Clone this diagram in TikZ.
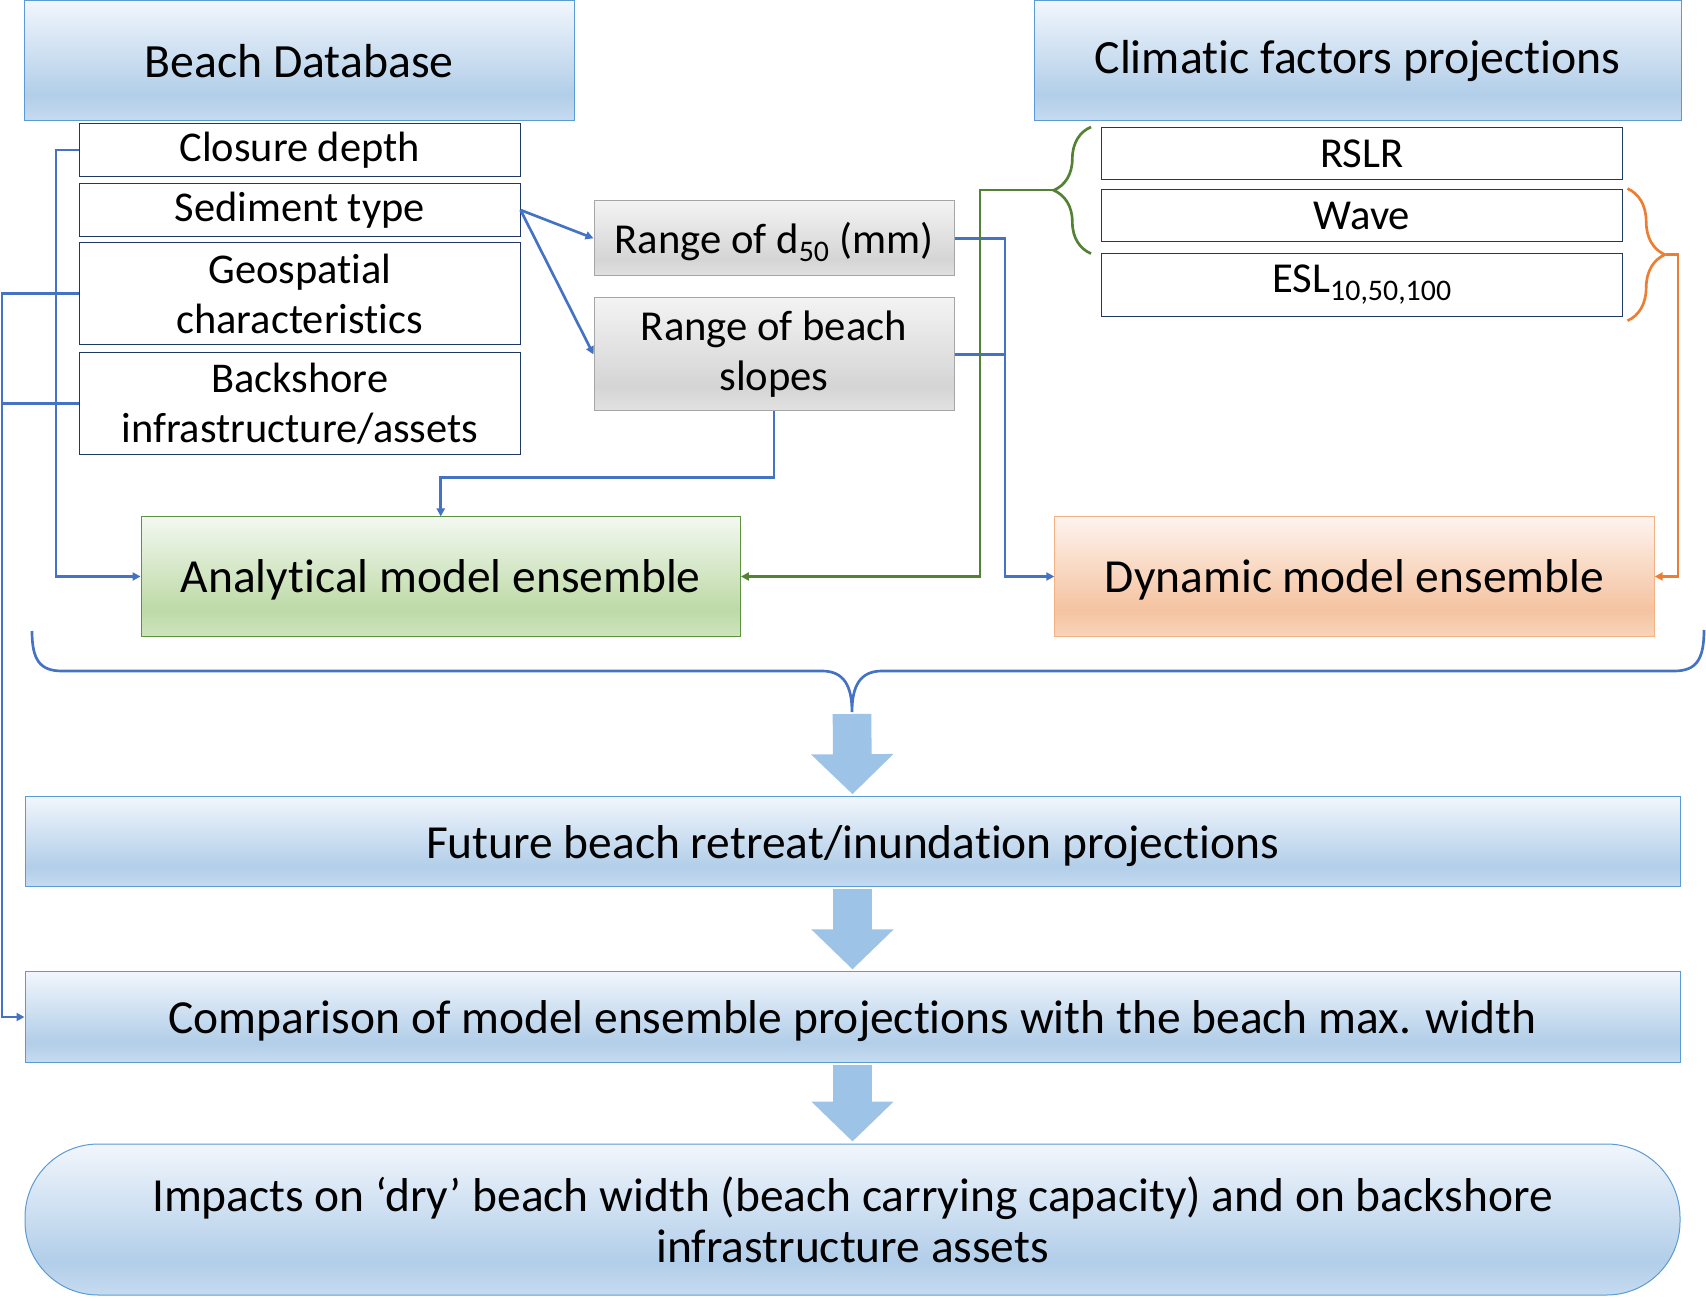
\documentclass[tikz,border=0pt]{standalone}
\usepackage{fontspec}
\setmainfont{Carlito}[Ligatures={TeX,NoCommon}]
\usetikzlibrary{arrows.meta,decorations.pathreplacing}

\definecolor{hdrT}{HTML}{F1F6FC}
\definecolor{hdrD}{HTML}{B2CEE9}
\definecolor{hdrB}{HTML}{C6DBF0}
\definecolor{hdrLine}{HTML}{5B9BD5}
\definecolor{gryT}{HTML}{F3F3F3}
\definecolor{gryD}{HTML}{D5D5D5}
\definecolor{gryB}{HTML}{E1E1E1}
\definecolor{gryLine}{HTML}{A6A6A6}
\definecolor{grnT}{HTML}{F3F8F0}
\definecolor{grnD}{HTML}{BDDAA7}
\definecolor{grnB}{HTML}{CDE4BD}
\definecolor{grnLine}{HTML}{5E9140}
\definecolor{orgT}{HTML}{FDF3EE}
\definecolor{orgD}{HTML}{F5C3A0}
\definecolor{orgB}{HTML}{F8D4BA}
\definecolor{orgLine}{HTML}{F4B183}
\definecolor{boxLine}{HTML}{1F3864}
\definecolor{blueLine}{HTML}{4472C4}
\definecolor{greenLine}{HTML}{548235}
\definecolor{orangeLine}{HTML}{ED7D31}
\definecolor{arrowFill}{HTML}{9DC3E6}

\pgfdeclareverticalshading{hdrshade}{100bp}{color(0bp)=(hdrB); color(25bp)=(hdrB); color(36bp)=(hdrD); color(75bp)=(hdrT); color(100bp)=(hdrT)}
\pgfdeclareverticalshading{gryshade}{100bp}{color(0bp)=(gryB); color(25bp)=(gryB); color(36bp)=(gryD); color(75bp)=(gryT); color(100bp)=(gryT)}
\pgfdeclareverticalshading{grnshade}{100bp}{color(0bp)=(grnB); color(25bp)=(grnB); color(36bp)=(grnD); color(75bp)=(grnT); color(100bp)=(grnT)}
\pgfdeclareverticalshading{orgshade}{100bp}{color(0bp)=(orgB); color(25bp)=(orgB); color(36bp)=(orgD); color(75bp)=(orgT); color(100bp)=(orgT)}

\tikzset{every picture/.style={line width=0.75pt},
  hdrbox/.style={draw=hdrLine, shade, shading=hdrshade, align=center, inner sep=0pt},
  itembox/.style={draw=boxLine, fill=white, align=center, inner sep=0pt, minimum width=330.4pt, font=\fontsize{31.8}{37.5}\selectfont},
  rangebox/.style={draw=gryLine, shade, shading=gryshade, align=center, inner sep=0pt, minimum width=270pt, font=\fontsize{32}{37.5}\selectfont},
  climbox/.style={draw=boxLine, fill=white, align=center, inner sep=0pt, minimum width=391.2pt, font=\fontsize{32}{37.5}\selectfont},
  modelbox/.style={align=center, inner sep=0pt, text depth=0pt, minimum width=449.5pt, minimum height=89.25pt, font=\fontsize{35.6}{42}\selectfont},
  bline/.style={draw=blueLine, line width=2pt},
  barrow/.style={bline, -{Triangle[length=6pt,width=6pt]}},
  garrow/.style={draw=greenLine, line width=2pt, -{Triangle[length=6pt,width=6pt]}},
  oarrow/.style={draw=orangeLine, line width=2pt, -{Triangle[length=6pt,width=6pt]}},
  smallbrace/.style={decorate, decoration={brace, amplitude=28pt}, line width=2pt},
  bigarrow/.style={draw=arrowFill, line width=29pt, -{Triangle[length=30pt,width=60pt]}, shorten <=1.5pt, shorten >=1.5pt}
}

\begin{document}
\begin{tikzpicture}[x=0.75pt,y=0.75pt,yscale=-1,xscale=1]
\path[use as bounding box] (0,0) rectangle (1706,1301);

%Shape: Rectangle [headers]
\node[hdrbox, minimum width=412.5pt, minimum height=90pt, font=\fontsize{35.8}{42}\selectfont] (bdb) at (299,61) {Beach Database};
\node[hdrbox, minimum width=485.25pt, minimum height=90pt, font=\fontsize{35.8}{42}\selectfont] (cfp) at (1357.5,61) {Climatic factors projections};

%Shape: Rectangle [beach database items]
\node[itembox, minimum height=39.5pt] (cd) at (299.75,150) {Closure depth};
\node[itembox, minimum height=39.5pt] (sed) at (299.75,210) {Sediment type};
\node[itembox, minimum height=76.2pt] (geo) at (299.75,293.5) {Geospatial\\characteristics};
\node[itembox, minimum height=76.5pt] (bs) at (299.75,403.3) {Backshore\\infrastructure/assets};

%Shape: Rectangle [ranges]
\node[rangebox, minimum height=56.5pt, text depth=0pt] (d50) at (774,238.3) {Range of d\textsubscript{50} (mm)};
\node[rangebox, minimum height=84.75pt] (slopes) at (774,354.5) {Range of beach\\slopes};

%Shape: Rectangle [climatic items]
\node[climbox, minimum height=39pt] (rslr) at (1362,154) {RSLR};
\node[climbox, minimum height=39pt] (wave) at (1362,216) {Wave};
\node[climbox, minimum height=47.1pt] (esl) at (1362,285) {ESL\textsubscript{10,50,100}};

%Shape: Rectangle [models]
\node[modelbox, draw=grnLine, shade, shading=grnshade] (ana) at (440.75,576.5) {Analytical model ensemble};
\node[modelbox, draw=orgLine, shade, shading=orgshade] (dyn) at (1354.5,576.5) {Dynamic model ensemble};

%Shape: Rectangle [results]
\node[hdrbox, text depth=0pt, minimum width=1241.25pt, minimum height=67.5pt, font=\fontsize{35.6}{42}\selectfont] (fut) at (852.5,841.7) {Future beach retreat/inundation projections};
\node[hdrbox, text depth=0pt, minimum width=1241.25pt, minimum height=67.7pt, font=\fontsize{35.6}{42}\selectfont] (comp) at (852.5,1017) {Comparison of model ensemble projections with the beach max. width};
\node[hdrbox, rounded corners=55pt, minimum width=1241.25pt, minimum height=113.25pt, font=\fontsize{35.6}{38.5}\selectfont] (imp) at (852.5,1219.5) {Impacts on ‘dry’ beach width (beach carrying capacity) and on backshore\\infrastructure assets};

%Braces
\coordinate (gtip) at (1054,190);
\coordinate (otip) at (1666,254.5);
\coordinate (btip) at (852,712);
\draw[smallbrace, draw=greenLine] (1091,253.6) -- (1091,127);
\draw[smallbrace, draw=orangeLine] (1627.5,188.6) -- (1627.5,320.7);
\draw[bline] (32,631) .. controls (32,660) and (40,671) .. (62,671) -- (822,671) .. controls (844,671) and (852,686) .. (btip) .. controls (852,686) and (860,671) .. (882,671) -- (1674,671) .. controls (1696,671) and (1704,660) .. (1704,630);

%Connectors
\draw[barrow] (sed.east) -- (d50.west);
\draw[barrow] (sed.east) -- (slopes.west);
\draw[barrow] (cd.west) -- ++(-23,0) |- (ana.west);
\draw[barrow] (geo.west) -- ++(-77,0) |- (comp.west);
\draw[bline] (bs.west) -- ++(-77,0);
\draw[barrow] (slopes.south) -- ++(0,66) -| (ana.north);
\draw[barrow] (d50.east) -- ++(50.5,0) |- (dyn.west);
\draw[bline] (slopes.east) -- ++(50.5,0);
\draw[garrow] (gtip) -- ++(-74,0) |- (ana.east);
\draw[oarrow] (otip) -- ++(12,0) |- (dyn.east);

%Block arrows
\draw[bigarrow] (btip) -- (fut.north);
\draw[bigarrow] (fut.south) -- (comp.north);
\draw[bigarrow] (comp.south) -- (imp.north);

\end{tikzpicture}
\end{document}
